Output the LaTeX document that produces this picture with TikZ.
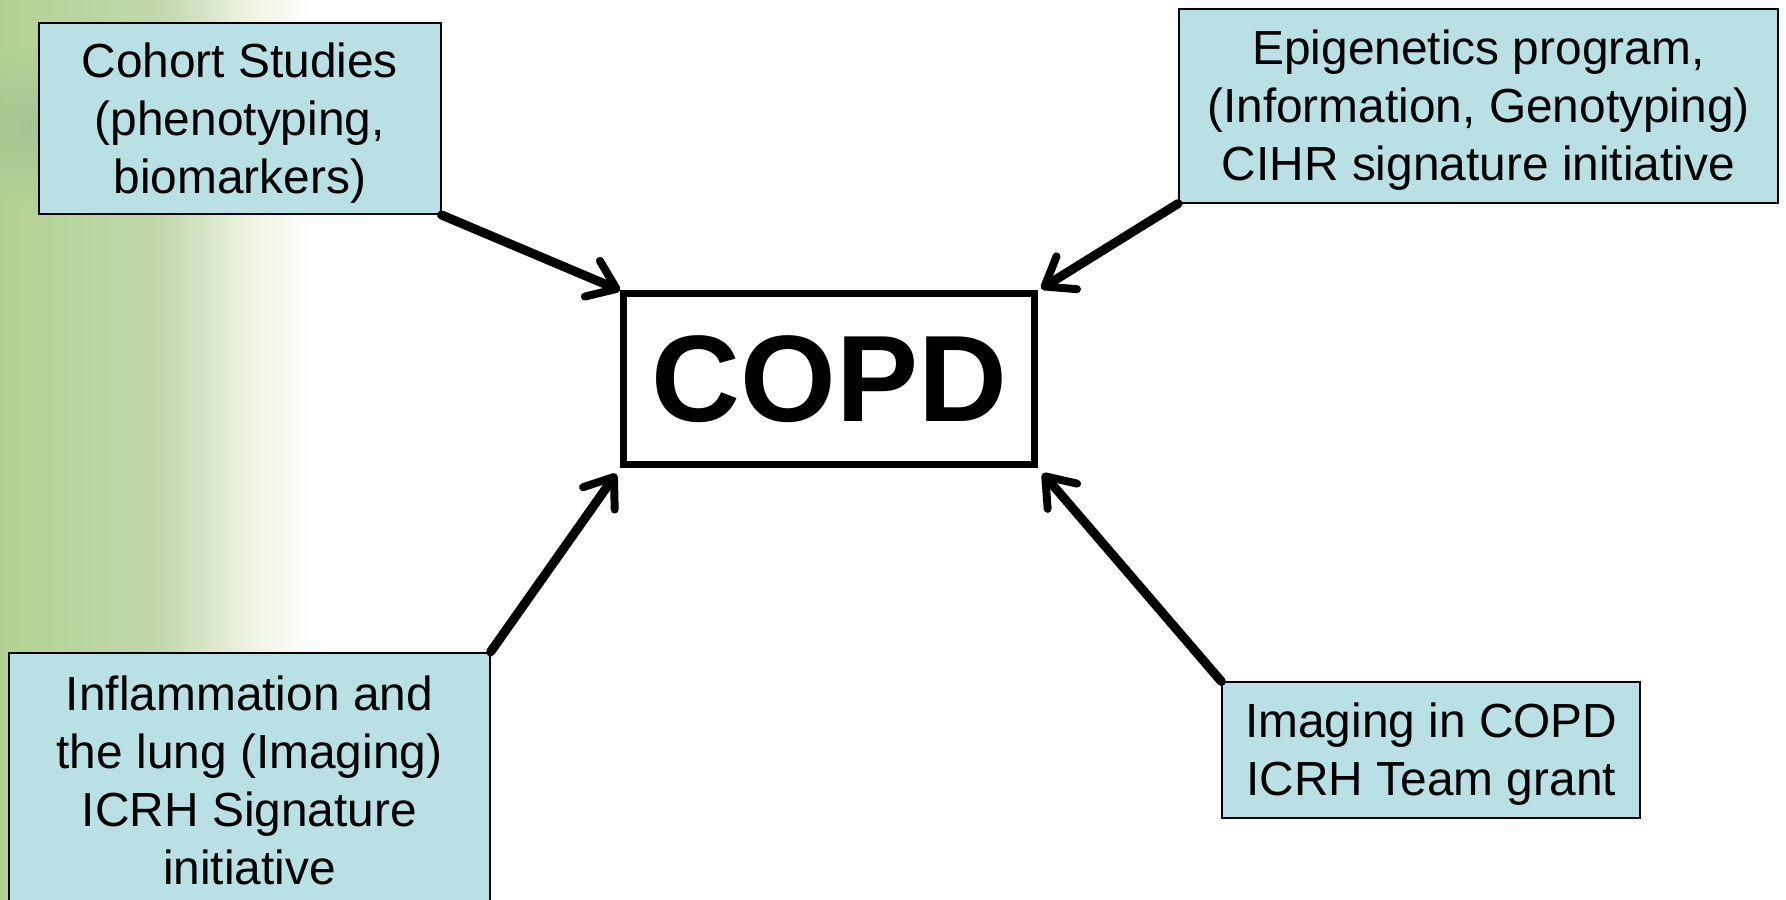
\documentclass[tikz,border=0pt]{standalone}
\usepackage{fontspec}
\setmainfont{Liberation Sans}
\usetikzlibrary{arrows.meta,fadings}

\definecolor{boxfill}{RGB}{185,224,228}
\definecolor{leafA}{RGB}{178,210,146}
\definecolor{leafB}{RGB}{192,216,172}
\definecolor{leafC}{RGB}{236,242,222}
\definecolor{leafDark}{RGB}{150,188,148}

\tikzfading[name=softcorner, inner color=transparent!0, outer color=transparent!100]

% centred lines, ink lowered by #1 while keeping the box extents
\newcommand\lowered[2]{\raisebox{-#1}[\height][\depth]{\begin{tabular}{@{}c@{}}#2\end{tabular}}}

\tikzset{
  infobox/.style={draw=black, line width=1.5pt, fill=boxfill, align=center,
    inner sep=0pt, font=\fontsize{42}{51}\selectfont},
  mainbox/.style={draw=black, line width=6pt, fill=white, inner sep=0pt,
    font=\fontsize{108}{120}\selectfont\bfseries},
  feed/.style={draw=black, line width=8pt, line cap=round,
    -{Straight Barb[length=23pt, width=34pt, line width=7pt, line cap=round, line join=round]}}
}

\begin{document}
\begin{tikzpicture}[x=1pt, y=-1pt]
  \useasboundingbox (0,0) rectangle (1568,790);
  \clip (0,0) rectangle (1568,790);
  \fill[white] (0,0) rectangle (1568,790);

  % green backdrop fading to white on the left edge
  \shade[left color=leafA, right color=leafB] (0,0) rectangle (140,790);
  \shade[left color=leafB, right color=leafC] (140,0) rectangle (215,790);
  \shade[left color=leafC, right color=white] (215,0) rectangle (275,790);
  \fill[leafDark, path fading=softcorner, fill opacity=0.6] (40,110) ellipse (120 and 70);

  % boxes
  \node[infobox, minimum width=353, minimum height=168] (cohort) at (210.5,104)
    {\lowered{5pt}{Cohort Studies\\(phenotyping,\\biomarkers)}};
  \node[infobox, minimum width=526, minimum height=170] (epi) at (1298,93)
    {\lowered{4pt}{Epigenetics program,\\(Information, Genotyping)\\CIHR signature initiative}};
  \node[infobox, minimum width=422, minimum height=224] (inflam) at (219,685)
    {Inflammation and\\the lung (Imaging)\\ICRH Signature\\initiative};
  \node[infobox, minimum width=367, minimum height=119] (imaging) at (1256.5,658.5)
    {\lowered{4.5pt}{Imaging in COPD\\ICRH Team grant}};
  \node[mainbox, minimum width=361, minimum height=150] (copd) at (728,333) {\raisebox{-1.5pt}{COPD}};

  % connectors into the central box
  \draw[feed] (cohort.south east) -- (copd.north west);
  \draw[feed, shorten >=3pt] (epi.south west) -- (copd.north east);
  \draw[feed, shorten >=6pt] (inflam.north east) -- (copd.south west);
  \draw[feed, shorten >=6pt] (imaging.north west) -- (copd.south east);
\end{tikzpicture}
\end{document}
